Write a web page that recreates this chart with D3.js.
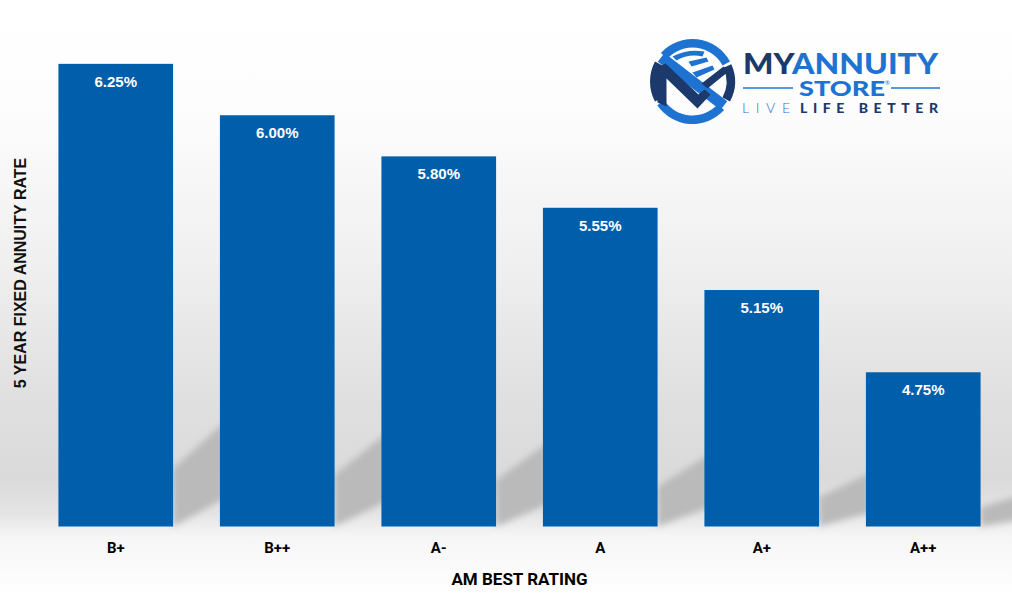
<!DOCTYPE html>
<html><head><meta charset="utf-8">
<script src="https://cdn.jsdelivr.net/npm/d3@7"></script>
<style>html,body{margin:0;padding:0;background:#fff;} svg{display:block;}</style>
</head><body>
<svg id="chart" width="1012" height="597"></svg>
<script>
const categories = ["B+", "B++", "A-", "A", "A+", "A++"];
const rates = [6.25, 6.00, 5.80, 5.55, 5.15, 4.75];
const valueLabels = ["6.25%", "6.00%", "5.80%", "5.55%", "5.15%", "4.75%"];
const yDomain = [4.0, 6.4];

const W = 1012, H = 597;
const svg = d3.select("#chart");
const defs = svg.append("defs");

const bg = defs.append("linearGradient").attr("id","bg").attr("x1",0).attr("y1",0).attr("x2",0).attr("y2",1);
[[0,"#ffffff"],[0.18,"#fdfdfd"],[0.45,"#efefef"],[0.66,"#e0e0e0"],[0.8,"#dadada"],[0.86,"#e4e4e4"],[0.9,"#f6f6f6"],[1,"#ffffff"]]
  .forEach(([o,c]) => bg.append("stop").attr("offset",o).attr("stop-color",c));
svg.append("rect").attr("width",W).attr("height",H).attr("fill","url(#bg)");

const blur = defs.append("filter").attr("id","blur").attr("x","-20%").attr("y","-20%").attr("width","140%").attr("height","140%");
blur.append("feGaussianBlur").attr("stdDeviation",3);

const x = d3.scaleBand().domain(categories).range([35, 1004]).paddingInner(0.29).paddingOuter(0.145);
const y = d3.scaleLinear().domain(yDomain).range([526.5, 33]);
const base = y(yDomain[0]);
const gap = x.step() - x.bandwidth();

// floor shadows
svg.append("g").attr("filter","url(#blur)").selectAll("path").data(categories).join("path")
  .attr("fill","#bababa")
  .attr("d",(c,i) => {
    const h = base - y(rates[i]);
    const x1 = x(c) + x.bandwidth();
    const x2 = x1 + gap + 4;
    return `M${x1},${base} L${x1},${base-0.125*h} L${x2},${base-0.225*h} L${x2},${base-0.06*h} Z`;
  });

// bars
svg.append("g").selectAll("rect").data(categories).join("rect")
  .attr("x", c => x(c)).attr("width", x.bandwidth())
  .attr("y", (c,i) => y(rates[i])).attr("height", (c,i) => base - y(rates[i]))
  .attr("fill", "#005eaa");

// value labels
svg.append("g").selectAll("text").data(categories).join("text")
  .attr("x", c => x(c) + x.bandwidth()/2)
  .attr("y", (c,i) => y(rates[i]) + 23)
  .attr("text-anchor","middle")
  .attr("fill","#ffffff")
  .style("font-family","'Liberation Sans', Arial, sans-serif")
  .style("font-weight","bold").style("font-size","15px")
  .text((c,i) => valueLabels[i]);

// x axis
const xAxis = svg.append("g").attr("transform",`translate(0,${base})`)
  .call(d3.axisBottom(x).tickSize(0).tickPadding(16));
xAxis.select(".domain").remove();
xAxis.selectAll("text")
  .attr("fill","#000")
  .style("font-family","Roboto, 'Liberation Sans', sans-serif")
  .style("font-weight","bold").style("font-size","15px");

svg.append("text").attr("x", 519.5).attr("y", 585).attr("text-anchor","middle")
  .style("font-family","Roboto, 'Liberation Sans', sans-serif")
  .style("font-weight","bold").style("font-size","17px").attr("fill","#000")
  .text("AM BEST RATING");

svg.append("text").attr("transform","translate(26,273) rotate(-90)").attr("text-anchor","middle")
  .style("font-family","'Liberation Sans', Arial, sans-serif")
  .style("font-weight","bold").style("font-size","16px").attr("fill","#111")
  .text("5 YEAR FIXED ANNUITY RATE");

// logo
const BLUE = "#1e73d2", NAVY = "#1b3a6b";
const logo = svg.append("g");
const cx = 692.5, cy = 81.5, R = 42.5, t = 8.5;
const arc = d3.arc().innerRadius(R - t).outerRadius(R);
const deg = Math.PI/180;
const lg = logo.append("g").attr("transform",`translate(${cx},${cy})`);
lg.append("path").attr("d", arc({startAngle:-48*deg, endAngle:62*deg})).attr("fill",BLUE);
lg.append("path").attr("d", arc({startAngle:66*deg, endAngle:118*deg})).attr("fill",NAVY);
lg.append("path").attr("d", arc({startAngle:132*deg, endAngle:236*deg})).attr("fill",BLUE);
lg.append("path").attr("d", arc({startAngle:242*deg, endAngle:298*deg})).attr("fill",NAVY);
// diagonal band
lg.append("g").attr("transform","rotate(37.5)")
  .append("rect").attr("x",-R+3).attr("y",-5.5).attr("width",2*R-6).attr("height",11).attr("fill",BLUE);
// inner navy M strokes
lg.append("path").attr("fill",NAVY)
  .attr("d","M-36,-13 L-27,-18 L6,13 L12,8 L18,13 L5,27 L-26,-3 L-26,25 L-35,21 Z");
lg.append("path").attr("fill",NAVY)
  .attr("d","M9,2 L31,-15 L37,-10 L31,-6 L15,7 Z");
// inner blue strokes
lg.append("path").attr("fill",BLUE)
  .attr("d","M-20,-25 Q-5,-33 12,-30 L10,-25 Q-4,-28 -16,-21 Z");
lg.append("path").attr("fill",BLUE)
  .attr("d","M-4,-20 L14,-24 L16,-20 L-1,-15 Z");
lg.append("path").attr("fill",BLUE)
  .attr("d","M0,-9 L20,-16 L22,-12 L4,-4 Z");

const brand = "Lato, 'DejaVu Sans', sans-serif";
const t1 = logo.append("text").attr("x",743).attr("y",73.5)
  .attr("textLength",195).attr("lengthAdjust","spacingAndGlyphs")
  .style("font-family",brand).style("font-weight","900").style("font-size","28px");
t1.append("tspan").attr("fill",NAVY).text("MY");
t1.append("tspan").attr("fill",BLUE).text("ANNUITY");
logo.append("line").attr("x1",743).attr("x2",793).attr("y1",88).attr("y2",88).attr("stroke",BLUE).attr("stroke-width",1.5);
logo.append("line").attr("x1",891).attr("x2",940).attr("y1",88).attr("y2",88).attr("stroke",BLUE).attr("stroke-width",1.5);
const st = logo.append("text").attr("x",799).attr("y",95.5)
  .style("font-family",brand).style("font-weight","900").style("font-size","21px").attr("fill",BLUE);
st.append("tspan").attr("textLength",86).attr("lengthAdjust","spacingAndGlyphs").text("STORE");
st.append("tspan").attr("dy",-11).style("font-size","6px").style("font-weight","400").text("®");
logo.append("text").attr("x",742).attr("y",113).attr("textLength",48).attr("lengthAdjust","spacing")
  .style("font-family",brand).style("font-weight","300").style("font-size","14px").attr("fill",BLUE).text("LIVE");
logo.append("text").attr("x",800).attr("y",113).attr("textLength",138).attr("lengthAdjust","spacing")
  .style("font-family",brand).style("font-weight","900").style("font-size","14px").attr("fill",NAVY).text("LIFE BETTER");
</script>
</body></html>
